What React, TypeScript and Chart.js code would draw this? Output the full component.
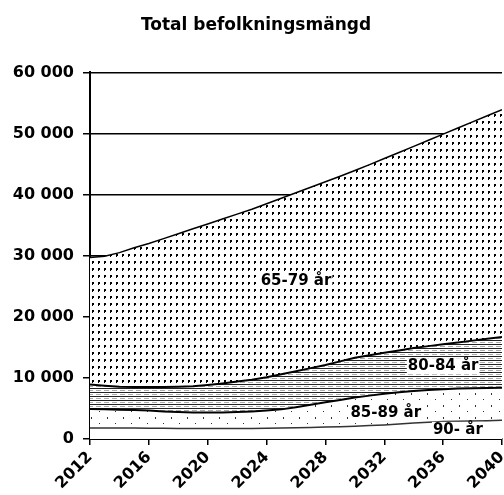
import React, { useEffect, useRef } from 'react';
import { Chart, registerables } from 'chart.js';

Chart.register(...registerables);

// ---- Data ----
const years = [2012, 2013, 2014, 2015, 2016, 2017, 2018, 2019, 2020, 2021, 2022, 2023, 2024, 2025, 2026, 2027, 2028, 2029, 2030, 2031, 2032, 2033, 2034, 2035, 2036, 2037, 2038, 2039, 2040];
const age90plus = [1800, 1800, 1800, 1800, 1750, 1750, 1700, 1700, 1700, 1700, 1700, 1700, 1750, 1800, 1850, 1900, 1950, 2000, 2100, 2200, 2300, 2450, 2600, 2750, 2850, 2900, 2950, 3000, 3050];
const age85to89 = [3100, 3050, 3000, 2950, 2900, 2750, 2700, 2650, 2650, 2650, 2700, 2800, 2900, 3050, 3350, 3700, 4050, 4400, 4700, 4900, 5100, 5200, 5250, 5250, 5300, 5350, 5350, 5350, 5350];
const age80to84 = [4000, 3850, 3750, 3750, 3850, 4000, 4150, 4300, 4500, 4750, 5000, 5200, 5450, 5750, 5900, 6000, 6100, 6300, 6500, 6600, 6700, 6850, 7050, 7200, 7350, 7550, 7800, 8050, 8300];
const age65to79 = [20800, 21200, 21950, 22800, 23500, 24300, 25050, 25750, 26350, 26900, 27400, 27900, 28400, 28800, 29200, 29600, 30000, 30300, 30650, 31200, 31800, 32400, 33000, 33700, 34400, 35100, 35800, 36500, 37200];
const seriesNames = ['90- år', '85-89 år', '80-84 år', '65-79 år'];
const titleText = 'Total befolkningsmängd';

// label anchors in data coordinates (year, value)
const labelAnchors = [
  { name: '65-79 år', year: 2026.0, value: 25900 },
  { name: '80-84 år', year: 2036.0, value: 11900 },
  { name: '85-89 år', year: 2032.1, value: 4270 },
  { name: '90- år', year: 2037.0, value: 1500 },
];

const FONT = '"DejaVu Sans", "Liberation Sans", Arial, sans-serif';

function makePattern(kind: string): CanvasPattern | string {
  const c = document.createElement('canvas');
  const g = c.getContext('2d');
  if (!g) return '#fff';
  if (kind === 'dots') {
    c.width = 6; c.height = 7;
    g.fillStyle = '#fff'; g.fillRect(0, 0, 6, 7);
    g.fillStyle = '#000';
    g.fillRect(2, 2, 2, 2);
    g.fillRect(2, 4, 1, 1);
  } else if (kind === 'lines') {
    c.width = 8; c.height = 4;
    g.fillStyle = '#fff'; g.fillRect(0, 0, 8, 4);
    g.fillStyle = '#222'; g.fillRect(0, 0, 8, 1);
    g.fillStyle = '#aaa'; g.fillRect(0, 2, 5, 1);
  } else if (kind === 'sparse') {
    c.width = 16; c.height = 12;
    g.fillStyle = '#fff'; g.fillRect(0, 0, 16, 12);
    g.fillStyle = '#333';
    g.fillRect(3, 3, 1, 1);
    g.fillRect(11, 9, 1, 2);
  } else {
    return '#fff';
  }
  return g.createPattern(c, 'repeat') || '#fff';
}

const fmt = (v: number) => String(v).replace(/\B(?=(\d{3})+(?!\d))/g, ' ');

const labelPlugin = {
  id: 'areaLabels',
  afterDatasetsDraw(chart: any) {
    const { ctx, scales } = chart;
    const x = scales.x, y = scales.y;
    ctx.save();
    ctx.font = `bold 15px ${FONT}`;
    ctx.textAlign = 'center';
    ctx.textBaseline = 'middle';
    labelAnchors.forEach((l) => {
      const px = x.getPixelForValue(l.year);
      const py = y.getPixelForValue(l.value);
      const w = ctx.measureText(l.name).width;
      ctx.fillStyle = '#fff';
      ctx.fillRect(px - w / 2 - 1, py - 8, w + 2, 16);
      ctx.fillStyle = '#000';
      ctx.fillText(l.name, px, py);
    });
    ctx.restore();
  },
};

export default function App() {
  const ref = useRef<HTMLCanvasElement | null>(null);

  useEffect(() => {
    if (!ref.current) return;
    const toPts = (arr: number[]) => years.map((yr, i) => ({ x: yr, y: arr[i] }));
    const chart = new Chart(ref.current, {
      type: 'line',
      data: {
        datasets: [
          {
            label: seriesNames[0],
            data: toPts(age90plus),
            backgroundColor: '#fff',
            borderColor: '#333',
            borderWidth: 1.5,
            fill: 'origin',
            pointRadius: 0,
            tension: 0,
          },
          {
            label: seriesNames[1],
            data: toPts(age85to89),
            backgroundColor: makePattern('sparse') as any,
            borderColor: '#000',
            borderWidth: 2,
            fill: '-1',
            pointRadius: 0,
            tension: 0,
          },
          {
            label: seriesNames[2],
            data: toPts(age80to84),
            backgroundColor: makePattern('lines') as any,
            borderColor: '#000',
            borderWidth: 2,
            fill: '-1',
            pointRadius: 0,
            tension: 0,
          },
          {
            label: seriesNames[3],
            data: toPts(age65to79),
            backgroundColor: makePattern('dots') as any,
            borderColor: '#000',
            borderWidth: 1.5,
            fill: '-1',
            pointRadius: 0,
            tension: 0,
          },
        ],
      },
      options: {
        responsive: false,
        animation: false,
        layout: { padding: { left: 10, right: 2, top: 0, bottom: 0 } },
        plugins: {
          legend: { display: false },
          tooltip: { enabled: false },
          title: {
            display: true,
            text: titleText,
            color: '#000',
            font: { family: FONT, size: 17, weight: 'bold' },
            padding: { top: 15, bottom: 37 },
          },
        },
        scales: {
          x: {
            type: 'linear',
            min: 2012,
            max: 2040,
            ticks: {
              stepSize: 4,
              color: '#000',
              font: { family: FONT, size: 16, weight: 'bold' },
              minRotation: 45,
              maxRotation: 45,
              padding: 3,
              callback: (v: any) => String(v),
            },
            grid: { display: true, drawOnChartArea: false, drawTicks: true, tickLength: 6, color: '#000', lineWidth: 1.5 },
            border: { display: true, color: '#000', width: 2 },
            afterFit: (s: any) => {
              s.height = 56;
              s.paddingLeft = 0;
              s.paddingRight = 0;
            },
          },
          y: {
            stacked: true,
            min: 0,
            max: 60000,
            ticks: {
              stepSize: 10000,
              color: '#000',
              font: { family: FONT, size: 16, weight: 'bold' },
              padding: 9,
              callback: (v: any) => fmt(Number(v)),
            },
            grid: { color: '#000', lineWidth: 1.5, tickLength: 7 },
            border: { display: true, color: '#000', width: 2 },
            afterFit: (s: any) => {
              s.width = 80;
            },
          },
        },
      },
      plugins: [labelPlugin],
    });
    return () => chart.destroy();
  }, []);

  return (
    <div style={{ position: 'fixed', left: 0, top: 0, width: 504, height: 495, background: '#fff' }}>
      <canvas ref={ref} width={504} height={495} style={{ display: 'block' }} />
    </div>
  );
}
